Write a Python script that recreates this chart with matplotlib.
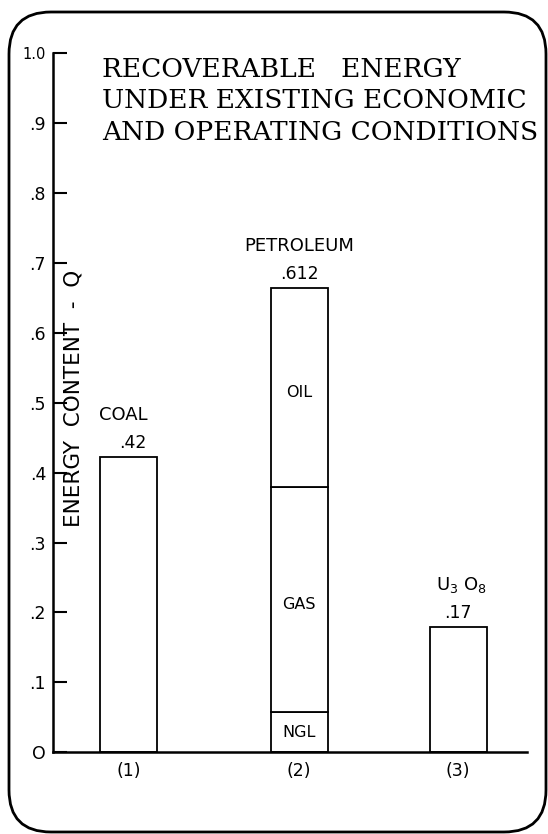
"""
Recoverable energy under existing economic and operating conditions
"""

import matplotlib.pyplot as plt
from matplotlib.patches import FancyBboxPatch

# ----------------------------------------------
# Data
# ----------------------------------------------
positions = [1, 2, 2.93]
tick_labels = ["(1)", "(2)", "(3)"]

coal = 0.422
u3o8 = 0.179
# petroleum stack, bottom to top
petro_parts = ["NGL", "GAS", "OIL"]
petro_values = [0.058, 0.321, 0.286]

value_labels = [".42", ".612", ".17"]
name_labels = ["COAL", "PETROLEUM", "U$_3$ O$_8$"]

y_ticks = [0, 0.1, 0.2, 0.3, 0.4, 0.5, 0.6, 0.7, 0.8, 0.9, 1.0]
y_tick_labels = ["O", ".1", ".2", ".3", ".4", ".5", ".6", ".7", ".8", ".9", "1.0"]

title_lines = ["RECOVERABLE   ENERGY", "UNDER EXISTING ECONOMIC", "AND OPERATING CONDITIONS"]

plt.rcParams['font.family'] = ['DejaVu Sans']

fig = plt.figure(figsize=(5.48, 8.34), dpi=100)
ax = fig.add_axes([0.0967, 0.098, 0.865, 0.838])

bar_w = 0.335
kw = dict(width=bar_w, color='white', edgecolor='black', linewidth=1.3)

ax.bar(positions[0], coal, **kw)
ax.bar(positions[2], u3o8, **kw)
bottom = 0
for part, val in zip(petro_parts, petro_values):
    ax.bar(positions[1], val, bottom=bottom, **kw)
    shift = 0 if part == "NGL" else -0.007
    ax.text(positions[1], bottom + val / 2 + shift, part,
            ha='center', va='center', fontsize=11.5)
    bottom += val
petro_total = bottom

# small horizontal nudges so the hand lettering lines up as drawn
value_dx = [0.028, 0, 0]
name_dx = [-0.028, 0, 0.02]
tops = [coal, petro_total, u3o8]
for i, x in enumerate(positions):
    ax.text(x + value_dx[i], tops[i] + 0.02, value_labels[i],
            ha='center', va='center', fontsize=12.5)
    ax.text(x + name_dx[i], tops[i] + 0.06, name_labels[i],
            ha='center', va='center', fontsize=13)

ax.set_xlim(0.559, 3.333)
ax.set_ylim(0, 1.0)
ax.set_xticks(positions)
ax.set_xticklabels(tick_labels, fontsize=12.5)
ax.set_yticks(y_ticks)
ax.set_yticklabels(y_tick_labels, fontsize=12.5)
ax.get_yticklabels()[-1].set_fontsize(10.5)
ax.tick_params(axis='x', length=0, pad=7)
ax.tick_params(axis='y', direction='in', length=10, width=1.5, pad=5)

for side in ['top', 'right']:
    ax.spines[side].set_visible(False)
for side in ['left', 'bottom']:
    ax.spines[side].set_linewidth(1.8)

ax.text(0.044, 0.507, "ENERGY  CONTENT  -  Q", transform=ax.transAxes, rotation=90,
        ha='center', va='center', fontsize=15.5)

# title, one line at a time at the baselines seen in the picture
for line, base in zip(title_lines, [77, 108, 140]):
    fig.text(102 / 548, 1 - base / 834, line, ha='left', va='baseline',
             fontsize=19, family='DejaVu Serif')

# rounded frame around everything
frame = FancyBboxPatch((0.09, 0.02), 5.37, 8.2, boxstyle="round,pad=0,rounding_size=0.42",
                       transform=fig.dpi_scale_trans, facecolor='none',
                       edgecolor='black', linewidth=2, clip_on=False)
fig.patches.append(frame)

plt.savefig('out.png', dpi=100)
